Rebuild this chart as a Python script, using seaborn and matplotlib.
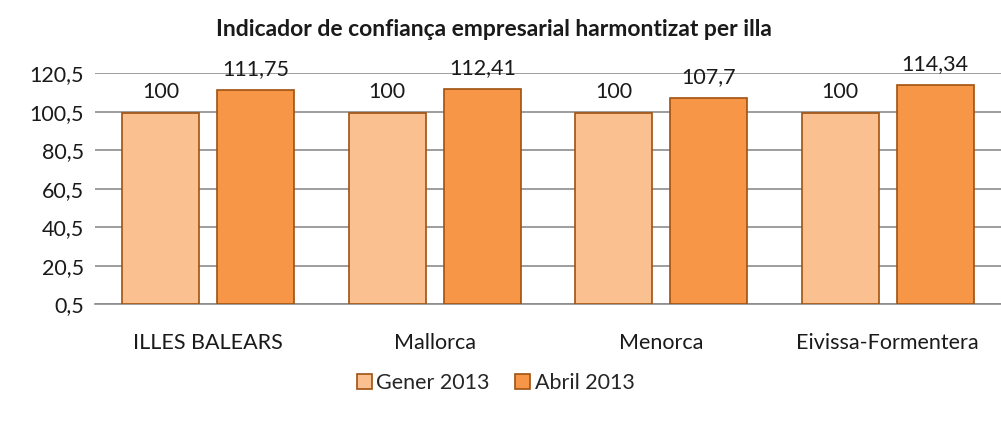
import pandas as pd
import matplotlib.pyplot as plt
import seaborn as sns
from matplotlib.patches import Patch

illes = ['ILLES BALEARS', 'Mallorca', 'Menorca', 'Eivissa-Formentera']
gener_2013 = [100, 100, 100, 100]
abril_2013 = [111.75, 112.41, 107.7, 114.34]
series = ['Gener 2013', 'Abril 2013']
yticks = [0.5, 20.5, 40.5, 60.5, 80.5, 100.5, 120.5]

df = pd.DataFrame({
    'illa': illes * 2,
    'serie': [series[0]] * 4 + [series[1]] * 4,
    'valor': gener_2013 + abril_2013,
})

sns.set_style('white')
plt.rcParams['font.family'] = ['Lato', 'DejaVu Sans']

clrs = ['#FAC090', '#F79646']
edge = '#A0520F'
fs = 15.5

fig = plt.figure(figsize=(10.01, 4.23), dpi=100)
ax = fig.add_axes([0.095, 0.281, 0.905, 0.546])

sns.barplot(data=df, x='illa', y='valor', hue='serie', palette=clrs, saturation=1,
            width=0.84, gap=0.19, edgecolor=edge, linewidth=1.2,
            legend=False, ax=ax, zorder=3)

# bars start at 0.5, like the original axis base
for bar in ax.patches:
    h = bar.get_height()
    bar.set_y(0.5)
    bar.set_height(h - 0.5)

for cont, vals in zip(ax.containers, [gener_2013, abril_2013]):
    for bar, v in zip(cont, vals):
        txt = f'{v:g}'.replace('.', ',')
        ax.annotate(txt, (bar.get_x() + bar.get_width() / 2, v), xytext=(0, 8),
                    textcoords='offset points', ha='center', va='bottom',
                    fontsize=fs, color='#1a1a1a', annotation_clip=False)

ax.set_ylim(0.5, 120.5)
ax.set_xlim(-0.5, 3.5)
ax.set_yticks(yticks)
ax.set_yticklabels([f'{t:g}'.replace('.', ',') for t in yticks])
ax.yaxis.grid(True, color='#8c8c8c', linewidth=1.2, zorder=0)
ax.set_axisbelow(True)
for s in ['top', 'right', 'left']:
    ax.spines[s].set_visible(False)
ax.spines['bottom'].set_color('#8c8c8c')
ax.spines['bottom'].set_linewidth(1.2)
ax.tick_params(axis='x', length=0, pad=21, labelsize=fs, labelcolor='#1a1a1a')
ax.tick_params(axis='y', length=0, pad=8, labelsize=fs, labelcolor='#1a1a1a')
ax.set_xlabel('')
ax.set_ylabel('')

fig.text(0.493, 0.93, 'Indicador de confiança empresarial harmontizat per illa',
         ha='center', va='center', fontsize=16.5, fontweight='bold', color='#1a1a1a')

handles = [Patch(facecolor=c, edgecolor=edge, linewidth=1.2) for c in clrs]
fig.legend(handles, series, loc='center', bbox_to_anchor=(0.495, 0.094), ncol=2,
           frameon=False, fontsize=fs, handlelength=0.7, handleheight=0.7,
           handletextpad=0.2, columnspacing=1.2)

fig.savefig('out.png', dpi=100)
